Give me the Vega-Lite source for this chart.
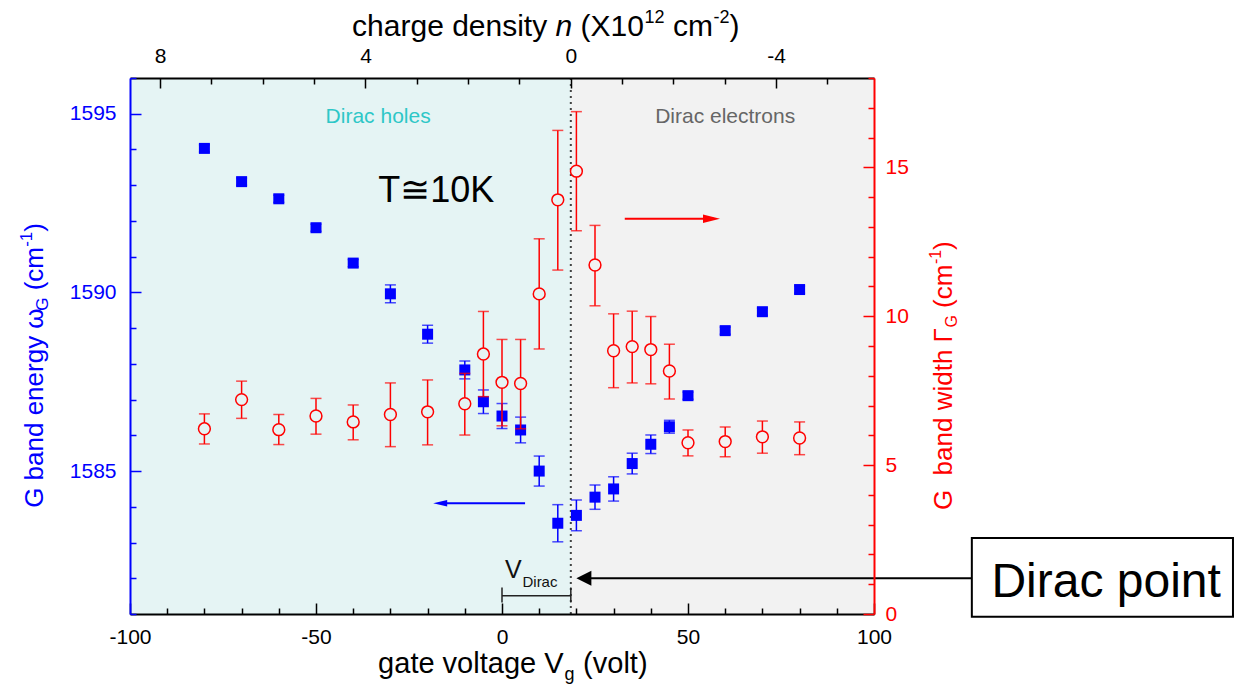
{
"$schema":"https://vega.github.io/schema/vega-lite/v6.json",
"width":744,"height":536,
"autosize":{"type":"none"},
"padding":{"left":130,"top":78,"right":362,"bottom":70},
"background":"white",
"config":{"view":{"stroke":null},"text":{"font":"Liberation Sans"},"axis":{"zindex":1,"grid":false,"labelFont":"Liberation Sans","labelFontSize":21,"labelFlush":false,"labelOverlap":false,"title":null,"tickWidth":1.5,"domainWidth":2}},
"data":{"values":[{}]},
"datasets":{
"regions":[{"x1":-100,"x2":18.5,"side":"holes"},{"x1":18.5,"x2":100,"side":"electrons"}],
"energy":[{"Vg":-80,"w":1594.03,"lo":1593.93,"hi":1594.13},{"Vg":-70,"w":1593.10,"lo":1593.0,"hi":1593.2},{"Vg":-60,"w":1592.62,"lo":1592.52,"hi":1592.72},{"Vg":-50,"w":1591.81,"lo":1591.71,"hi":1591.91},{"Vg":-40,"w":1590.82,"lo":1590.72,"hi":1590.92},{"Vg":-30,"w":1589.96,"lo":1589.71,"hi":1590.21},{"Vg":-20,"w":1588.83,"lo":1588.58,"hi":1589.08},{"Vg":-10,"w":1587.83,"lo":1587.58,"hi":1588.08},{"Vg":-5,"w":1586.94,"lo":1586.61,"hi":1587.27},{"Vg":0,"w":1586.54,"lo":1586.19,"hi":1586.89},{"Vg":5,"w":1586.15,"lo":1585.79,"hi":1586.51},{"Vg":10,"w":1585.00,"lo":1584.58,"hi":1585.42},{"Vg":15,"w":1583.54,"lo":1583.02,"hi":1584.06},{"Vg":20,"w":1583.76,"lo":1583.33,"hi":1584.19},{"Vg":25,"w":1584.27,"lo":1583.93,"hi":1584.61},{"Vg":30,"w":1584.50,"lo":1584.16,"hi":1584.84},{"Vg":35,"w":1585.21,"lo":1584.92,"hi":1585.50},{"Vg":40,"w":1585.75,"lo":1585.49,"hi":1586.01},{"Vg":45,"w":1586.24,"lo":1586.06,"hi":1586.42},{"Vg":50,"w":1587.11,"lo":1587.01,"hi":1587.21},{"Vg":60,"w":1588.93,"lo":1588.83,"hi":1589.03},{"Vg":70,"w":1589.46,"lo":1589.36,"hi":1589.56},{"Vg":80,"w":1590.08,"lo":1589.98,"hi":1590.18}],
"width":[{"Vg":-80,"g":6.22,"lo":5.71,"hi":6.72},{"Vg":-70,"g":7.20,"lo":6.57,"hi":7.82},{"Vg":-60,"g":6.19,"lo":5.69,"hi":6.70},{"Vg":-50,"g":6.65,"lo":6.04,"hi":7.24},{"Vg":-40,"g":6.45,"lo":5.85,"hi":7.02},{"Vg":-30,"g":6.70,"lo":5.62,"hi":7.76},{"Vg":-20,"g":6.79,"lo":5.68,"hi":7.86},{"Vg":-10,"g":7.06,"lo":6.01,"hi":8.08},{"Vg":-5,"g":8.73,"lo":7.30,"hi":10.16},{"Vg":0,"g":7.78,"lo":6.32,"hi":9.22},{"Vg":5,"g":7.74,"lo":6.22,"hi":9.22},{"Vg":10,"g":10.75,"lo":8.90,"hi":12.60},{"Vg":15,"g":13.91,"lo":11.55,"hi":16.24},{"Vg":20,"g":14.87,"lo":12.87,"hi":16.87},{"Vg":25,"g":11.72,"lo":10.35,"hi":13.05},{"Vg":30,"g":8.84,"lo":7.60,"hi":10.08},{"Vg":35,"g":8.98,"lo":7.76,"hi":10.17},{"Vg":40,"g":8.88,"lo":7.73,"hi":9.99},{"Vg":45,"g":8.16,"lo":7.22,"hi":9.06},{"Vg":50,"g":5.75,"lo":5.31,"hi":6.18},{"Vg":60,"g":5.79,"lo":5.28,"hi":6.28},{"Vg":70,"g":5.95,"lo":5.40,"hi":6.48},{"Vg":80,"g":5.91,"lo":5.35,"hi":6.45}]
},
"layer":[
{
"layer":[
{"data":{"name":"regions"},"mark":{"type":"rect"},
 "encoding":{
  "x":{"field":"x1","type":"quantitative","scale":{"domain":[-100,100],"nice":false,"zero":false},"title":null,
   "axis":{"orient":"bottom","zindex":2,"values":[-100,-50,0,50,100],"labelExpr":"'' + datum.value","ticks":false,"tickSize":0,"domainColor":"black","labelColor":"black","labelPadding":12}},
  "x2":{"field":"x2"},
  "color":{"field":"side","type":"nominal","scale":{"domain":["holes","electrons"],"range":["#e5f4f4","#f2f2f2"]},"legend":null}}},
{"mark":{"type":"rule","color":"#444444","strokeWidth":2,"strokeDash":[2,4]},
 "encoding":{"x":{"datum":18.5,"type":"quantitative","scale":{"domain":[-100,100],"nice":false,"zero":false},"title":null,
   "axis":{"orient":"bottom","zindex":2,"values":[-100,-50,0,50,100],"labels":false,"domain":false,"ticks":true,"tickSize":11,"offset":-11,"tickColor":"black","tickOpacity":1}}}},
{"mark":{"type":"rule","opacity":0},
 "encoding":{"x":{"datum":0,"type":"quantitative","scale":{"domain":[-100,100],"nice":false,"zero":false},"title":null,
   "axis":{"orient":"bottom","zindex":2,"values":[-90,-80,-70,-60,-40,-30,-20,-10,10,20,30,40,60,70,80,90],"labels":false,"domain":false,"ticks":true,"tickSize":6,"offset":-6,"tickColor":"black","tickOpacity":1}}}},
{"layer":[
 {"data":{"name":"energy"},"mark":{"type":"rule","color":"#0000ff","strokeWidth":1.5},
  "encoding":{"x":{"field":"Vg","type":"quantitative","scale":{"domain":[-100,100],"nice":false,"zero":false},"axis":null,"title":null},
   "y":{"field":"lo","type":"quantitative","scale":{"domain":[1581,1596],"nice":false,"zero":false},"title":null,
    "axis":{"orient":"left","zindex":2,"values":[1585,1590,1595],"labelExpr":"'' + datum.value","ticks":false,"tickSize":0,"domainColor":"#0000ff","labelColor":"#0000ff","labelPadding":14}},
   "y2":{"field":"hi"}}},
 {"data":{"name":"energy"},"mark":{"type":"tick","orient":"horizontal","color":"#0000ff","size":11,"thickness":1.5},
  "encoding":{"x":{"field":"Vg","type":"quantitative","scale":{"domain":[-100,100],"nice":false,"zero":false},"axis":null,"title":null},
   "y":{"field":"lo","type":"quantitative","scale":{"domain":[1581,1596],"nice":false,"zero":false},"title":null,
    "axis":{"orient":"left","zindex":2,"values":[1585,1590,1595],"labels":false,"domain":false,"ticks":true,"tickSize":11,"offset":-11,"tickColor":"#0000ff","tickOpacity":1}}}},
 {"data":{"name":"energy"},"mark":{"type":"tick","orient":"horizontal","color":"#0000ff","size":11,"thickness":1.5},
  "encoding":{"x":{"field":"Vg","type":"quantitative","scale":{"domain":[-100,100],"nice":false,"zero":false},"axis":null,"title":null},
   "y":{"field":"hi","type":"quantitative","scale":{"domain":[1581,1596],"nice":false,"zero":false},"title":null,
    "axis":{"orient":"left","zindex":2,"values":[1581,1582,1583,1584,1586,1587,1588,1589,1591,1592,1593,1594,1596],"labels":false,"domain":false,"ticks":true,"tickSize":6,"offset":-6,"tickColor":"#0000ff","tickOpacity":1}}}},
 {"data":{"name":"energy"},"mark":{"type":"point","shape":"square","filled":true,"size":121,"color":"#0000ff","opacity":1},
  "encoding":{"x":{"field":"Vg","type":"quantitative","scale":{"domain":[-100,100],"nice":false,"zero":false},"axis":null,"title":null},
   "y":{"field":"w","type":"quantitative","scale":{"domain":[1581,1596],"nice":false,"zero":false},"axis":null,"title":null}}},
 {"mark":{"type":"text","text":"T≅10K","fontSize":36,"align":"center","baseline":"alphabetic","color":"black","font":"Liberation Sans"},
  "encoding":{"x":{"datum":-17.7,"type":"quantitative","axis":null},"y":{"datum":1592.52,"type":"quantitative","axis":null}}},
 {"mark":{"type":"text","text":"Dirac holes","fontSize":21,"align":"center","baseline":"alphabetic","color":"#2ec7c7","font":"Liberation Sans"},
  "encoding":{"x":{"datum":-33.3,"type":"quantitative","axis":null},"y":{"datum":1594.73,"type":"quantitative","axis":null}}},
 {"mark":{"type":"text","text":"Dirac electrons","fontSize":21,"align":"center","baseline":"alphabetic","color":"#666666","font":"Liberation Sans"},
  "encoding":{"x":{"datum":60,"type":"quantitative","axis":null},"y":{"datum":1594.73,"type":"quantitative","axis":null}}},
 {"mark":{"type":"rule","color":"#0000ff","strokeWidth":2},
  "encoding":{"x":{"datum":6.2,"type":"quantitative","axis":null},"x2":{"datum":-16},"y":{"datum":1584.1,"type":"quantitative","axis":null}}},
 {"mark":{"type":"point","shape":"M0,0L2,-0.45L2,0.45Z","filled":true,"size":196,"color":"#0000ff","opacity":1},
  "encoding":{"x":{"datum":-18.5,"type":"quantitative","axis":null},"y":{"datum":1584.1,"type":"quantitative","axis":null}}},
 {"mark":{"type":"rule","color":"#222222","strokeWidth":1.5},
  "encoding":{"x":{"datum":0,"type":"quantitative","axis":null},"x2":{"datum":18.5},"y":{"datum":1581.51,"type":"quantitative","axis":null}}},
 {"mark":{"type":"rule","color":"#222222","strokeWidth":1.5},
  "encoding":{"x":{"datum":0,"type":"quantitative","axis":null},"y":{"datum":1581.32,"type":"quantitative","axis":null},"y2":{"datum":1581.74}}},
 {"mark":{"type":"rule","color":"#222222","strokeWidth":1.5},
  "encoding":{"x":{"datum":18.5,"type":"quantitative","axis":null},"y":{"datum":1581.32,"type":"quantitative","axis":null},"y2":{"datum":1581.74}}},
 {"mark":{"type":"text","text":"V","fontSize":25,"align":"left","baseline":"alphabetic","color":"#111111","font":"Liberation Sans"},
  "encoding":{"x":{"datum":0.8,"type":"quantitative","axis":null},"y":{"datum":1582.0,"type":"quantitative","axis":null}}},
 {"mark":{"type":"text","text":"Dirac","fontSize":15,"align":"left","baseline":"alphabetic","color":"#111111","font":"Liberation Sans"},
  "encoding":{"x":{"datum":5.5,"type":"quantitative","axis":null},"y":{"datum":1581.76,"type":"quantitative","axis":null}}},
 {"mark":{"type":"rect","fill":"white","stroke":"black","strokeWidth":2},
  "encoding":{"x":{"datum":126.3,"type":"quantitative","axis":null},"x2":{"datum":196.5},"y":{"datum":1583.13,"type":"quantitative","axis":null},"y2":{"datum":1580.92}}},
 {"mark":{"type":"text","text":"Dirac point","fontSize":48,"align":"center","baseline":"alphabetic","color":"black","font":"Liberation Sans"},
  "encoding":{"x":{"datum":162.4,"type":"quantitative","axis":null},"y":{"datum":1581.48,"type":"quantitative","axis":null}}},
 {"mark":{"type":"rule","color":"black","strokeWidth":2},
  "encoding":{"x":{"datum":126.3,"type":"quantitative","axis":null},"x2":{"datum":23},"y":{"datum":1582.0,"type":"quantitative","axis":null}}},
 {"mark":{"type":"point","shape":"M0,0L2,-1L2,1Z","filled":true,"size":225,"color":"black","opacity":1},
  "encoding":{"x":{"datum":20.0,"type":"quantitative","axis":null},"y":{"datum":1582.0,"type":"quantitative","axis":null}}},
 {"mark":{"type":"text","text":"G band energy","fontSize":26,"color":"#0000ff","angle":270,"align":"left","baseline":"alphabetic","dx":0,"font":"Liberation Sans"},
  "encoding":{"x":{"datum":-123.4,"type":"quantitative","axis":null},"y":{"datum":1583.97,"type":"quantitative","axis":null}}},
 {"mark":{"type":"text","text":"ω","fontSize":26,"color":"#0000ff","angle":270,"align":"left","baseline":"alphabetic","dx":179.2,"font":"Liberation Sans"},
  "encoding":{"x":{"datum":-123.4,"type":"quantitative","axis":null},"y":{"datum":1583.97,"type":"quantitative","axis":null}}},
 {"mark":{"type":"text","text":"G","fontSize":17,"color":"#0000ff","angle":270,"align":"left","baseline":"alphabetic","dx":197,"dy":5,"font":"Liberation Sans"},
  "encoding":{"x":{"datum":-123.4,"type":"quantitative","axis":null},"y":{"datum":1583.97,"type":"quantitative","axis":null}}},
 {"mark":{"type":"text","text":"(cm","fontSize":26,"color":"#0000ff","angle":270,"align":"left","baseline":"alphabetic","dx":217.5,"font":"Liberation Sans"},
  "encoding":{"x":{"datum":-123.4,"type":"quantitative","axis":null},"y":{"datum":1583.97,"type":"quantitative","axis":null}}},
 {"mark":{"type":"text","text":"-1","fontSize":17,"color":"#0000ff","angle":270,"align":"left","baseline":"alphabetic","dx":261,"dy":-11,"font":"Liberation Sans"},
  "encoding":{"x":{"datum":-123.4,"type":"quantitative","axis":null},"y":{"datum":1583.97,"type":"quantitative","axis":null}}},
 {"mark":{"type":"text","text":")","fontSize":26,"color":"#0000ff","angle":270,"align":"left","baseline":"alphabetic","dx":276,"font":"Liberation Sans"},
  "encoding":{"x":{"datum":-123.4,"type":"quantitative","axis":null},"y":{"datum":1583.97,"type":"quantitative","axis":null}}},
 {"mark":{"type":"text","text":"gate voltage V","fontSize":29,"color":"black","align":"left","baseline":"alphabetic","dx":0,"font":"Liberation Sans"},
  "encoding":{"x":{"datum":-33.3,"type":"quantitative","axis":null},"y":{"datum":1579.35,"type":"quantitative","axis":null}}},
 {"mark":{"type":"text","text":"g","fontSize":18,"color":"black","align":"left","baseline":"alphabetic","dx":186.5,"dy":7,"font":"Liberation Sans"},
  "encoding":{"x":{"datum":-33.3,"type":"quantitative","axis":null},"y":{"datum":1579.35,"type":"quantitative","axis":null}}},
 {"mark":{"type":"text","text":"(volt)","fontSize":29,"color":"black","align":"left","baseline":"alphabetic","dx":205,"font":"Liberation Sans"},
  "encoding":{"x":{"datum":-33.3,"type":"quantitative","axis":null},"y":{"datum":1579.35,"type":"quantitative","axis":null}}},
 {"mark":{"type":"text","text":"charge density","fontSize":30,"color":"black","align":"left","baseline":"alphabetic","dx":0,"font":"Liberation Sans"},
  "encoding":{"x":{"datum":-40.3,"type":"quantitative","axis":null},"y":{"datum":1597.17,"type":"quantitative","axis":null}}},
 {"mark":{"type":"text","text":"n","fontSize":30,"fontStyle":"italic","color":"black","align":"left","baseline":"alphabetic","dx":203.4,"font":"Liberation Sans"},
  "encoding":{"x":{"datum":-40.3,"type":"quantitative","axis":null},"y":{"datum":1597.17,"type":"quantitative","axis":null}}},
 {"mark":{"type":"text","text":"(X10","fontSize":30,"color":"black","align":"left","baseline":"alphabetic","dx":228.4,"font":"Liberation Sans"},
  "encoding":{"x":{"datum":-40.3,"type":"quantitative","axis":null},"y":{"datum":1597.17,"type":"quantitative","axis":null}}},
 {"mark":{"type":"text","text":"12","fontSize":18,"color":"black","align":"left","baseline":"alphabetic","dx":292.5,"dy":-13,"font":"Liberation Sans"},
  "encoding":{"x":{"datum":-40.3,"type":"quantitative","axis":null},"y":{"datum":1597.17,"type":"quantitative","axis":null}}},
 {"mark":{"type":"text","text":"cm","fontSize":30,"color":"black","align":"left","baseline":"alphabetic","dx":320.8,"font":"Liberation Sans"},
  "encoding":{"x":{"datum":-40.3,"type":"quantitative","axis":null},"y":{"datum":1597.17,"type":"quantitative","axis":null}}},
 {"mark":{"type":"text","text":"-2","fontSize":18,"color":"black","align":"left","baseline":"alphabetic","dx":361.5,"dy":-13,"font":"Liberation Sans"},
  "encoding":{"x":{"datum":-40.3,"type":"quantitative","axis":null},"y":{"datum":1597.17,"type":"quantitative","axis":null}}},
 {"mark":{"type":"text","text":")","fontSize":30,"color":"black","align":"left","baseline":"alphabetic","dx":377.5,"font":"Liberation Sans"},
  "encoding":{"x":{"datum":-40.3,"type":"quantitative","axis":null},"y":{"datum":1597.17,"type":"quantitative","axis":null}}}
],
"resolve":{"axis":{"y":"independent"}}},
{"layer":[
 {"data":{"name":"width"},"mark":{"type":"rule","color":"#ff0000","strokeWidth":1.5},
  "encoding":{"x":{"field":"Vg","type":"quantitative","scale":{"domain":[-100,100],"nice":false,"zero":false},"axis":null,"title":null},
   "y":{"field":"lo","type":"quantitative","scale":{"domain":[0,18],"nice":false,"zero":false},"title":null,
    "axis":{"orient":"right","zindex":2,"values":[0,5,10,15],"labelExpr":"'' + datum.value","ticks":false,"tickSize":0,"domainColor":"#ff0000","labelColor":"#ff0000","labelPadding":11}},
   "y2":{"field":"hi"}}},
 {"data":{"name":"width"},"mark":{"type":"tick","orient":"horizontal","color":"#ff0000","size":11,"thickness":1.5},
  "encoding":{"x":{"field":"Vg","type":"quantitative","scale":{"domain":[-100,100],"nice":false,"zero":false},"axis":null,"title":null},
   "y":{"field":"lo","type":"quantitative","scale":{"domain":[0,18],"nice":false,"zero":false},"title":null,
    "axis":{"orient":"right","zindex":2,"values":[0,5,10,15],"labels":false,"domain":false,"ticks":true,"tickSize":11,"offset":-11,"tickColor":"#ff0000","tickOpacity":1}}}},
 {"data":{"name":"width"},"mark":{"type":"tick","orient":"horizontal","color":"#ff0000","size":11,"thickness":1.5},
  "encoding":{"x":{"field":"Vg","type":"quantitative","scale":{"domain":[-100,100],"nice":false,"zero":false},"axis":null,"title":null},
   "y":{"field":"hi","type":"quantitative","scale":{"domain":[0,18],"nice":false,"zero":false},"title":null,
    "axis":{"orient":"right","zindex":2,"values":[1,2,3,4,6,7,8,9,11,12,13,14,16,17,18],"labels":false,"domain":false,"ticks":true,"tickSize":6,"offset":-6,"tickColor":"#ff0000","tickOpacity":1}}}},
 {"data":{"name":"width"},"mark":{"type":"point","shape":"circle","size":140,"stroke":"#ff0000","strokeWidth":1.5,"opacity":1,"fillOpacity":1},
  "encoding":{"x":{"field":"Vg","type":"quantitative","scale":{"domain":[-100,100],"nice":false,"zero":false},"axis":null,"title":null},
   "y":{"field":"g","type":"quantitative","scale":{"domain":[0,18],"nice":false,"zero":false},"axis":null,"title":null},
   "fill":{"condition":{"test":"datum.Vg < 18.5","value":"#e5f4f4"},"value":"#f2f2f2"}}},
 {"mark":{"type":"rule","color":"#ff0000","strokeWidth":2},
  "encoding":{"x":{"datum":33,"type":"quantitative","axis":null},"x2":{"datum":57},"y":{"datum":13.27,"type":"quantitative","axis":null}}},
 {"mark":{"type":"point","shape":"M0,0L-2,-0.5L-2,0.5Z","filled":true,"size":289,"color":"#ff0000","opacity":1},
  "encoding":{"x":{"datum":58.6,"type":"quantitative","axis":null},"y":{"datum":13.27,"type":"quantitative","axis":null}}},
 {"mark":{"type":"text","text":"G","fontSize":26,"color":"#ff0000","angle":270,"align":"left","baseline":"alphabetic","dx":0,"font":"Liberation Sans"},
  "encoding":{"x":{"datum":121,"type":"quantitative","axis":null},"y":{"datum":3.49,"type":"quantitative","axis":null}}},
 {"mark":{"type":"text","text":"band width","fontSize":26,"color":"#ff0000","angle":270,"align":"left","baseline":"alphabetic","dx":34.7,"font":"Liberation Sans"},
  "encoding":{"x":{"datum":121,"type":"quantitative","axis":null},"y":{"datum":3.49,"type":"quantitative","axis":null}}},
 {"mark":{"type":"text","text":"Γ","fontSize":26,"color":"#ff0000","angle":270,"align":"left","baseline":"alphabetic","dx":167.6,"font":"Liberation Sans"},
  "encoding":{"x":{"datum":121,"type":"quantitative","axis":null},"y":{"datum":3.49,"type":"quantitative","axis":null}}},
 {"mark":{"type":"text","text":"G","fontSize":16,"color":"#ff0000","angle":270,"align":"left","baseline":"alphabetic","dx":182.5,"dy":5,"font":"Liberation Sans"},
  "encoding":{"x":{"datum":121,"type":"quantitative","axis":null},"y":{"datum":3.49,"type":"quantitative","axis":null}}},
 {"mark":{"type":"text","text":"(cm","fontSize":26,"color":"#ff0000","angle":270,"align":"left","baseline":"alphabetic","dx":202.2,"font":"Liberation Sans"},
  "encoding":{"x":{"datum":121,"type":"quantitative","axis":null},"y":{"datum":3.49,"type":"quantitative","axis":null}}},
 {"mark":{"type":"text","text":"-1","fontSize":16,"color":"#ff0000","angle":270,"align":"left","baseline":"alphabetic","dx":246,"dy":-11,"font":"Liberation Sans"},
  "encoding":{"x":{"datum":121,"type":"quantitative","axis":null},"y":{"datum":3.49,"type":"quantitative","axis":null}}},
 {"mark":{"type":"text","text":")","fontSize":26,"color":"#ff0000","angle":270,"align":"left","baseline":"alphabetic","dx":260.2,"font":"Liberation Sans"},
  "encoding":{"x":{"datum":121,"type":"quantitative","axis":null},"y":{"datum":3.49,"type":"quantitative","axis":null}}}
],
"resolve":{"axis":{"y":"independent"}}}
],
"resolve":{"scale":{"y":"independent"},"axis":{"x":"independent"}}
},
{"layer":[
 {"data":{"values":[{"n":0}]},"mark":{"type":"point","opacity":0},
  "encoding":{"x":{"field":"n","type":"quantitative","scale":{"domain":[-5.906,8.587],"reverse":true,"nice":false,"zero":false},"title":null,
   "axis":{"orient":"top","zindex":2,"values":[8,4,0,-4],"labelExpr":"'' + datum.value","ticks":false,"tickSize":0,"domainColor":"black","labelColor":"black","labelPadding":12}}}},
 {"data":{"values":[{"n":0}]},"mark":{"type":"point","opacity":0},
  "encoding":{"x":{"field":"n","type":"quantitative","scale":{"domain":[-5.906,8.587],"reverse":true,"nice":false,"zero":false},"title":null,
   "axis":{"orient":"top","zindex":2,"values":[8,4,0,-4],"labels":false,"domain":false,"ticks":true,"tickSize":10,"offset":-10,"tickColor":"black","tickOpacity":1}}}},
 {"data":{"values":[{"n":0}]},"mark":{"type":"point","opacity":0},
  "encoding":{"x":{"field":"n","type":"quantitative","scale":{"domain":[-5.906,8.587],"reverse":true,"nice":false,"zero":false},"title":null,
   "axis":{"orient":"top","zindex":2,"values":[7,6,5,3,2,1,-1,-2,-3,-5],"labels":false,"domain":false,"ticks":true,"tickSize":6,"offset":-6,"tickColor":"black","tickOpacity":1}}}}
],
"resolve":{"axis":{"x":"independent"}}}
],
"resolve":{"scale":{"x":"independent"}}
}
